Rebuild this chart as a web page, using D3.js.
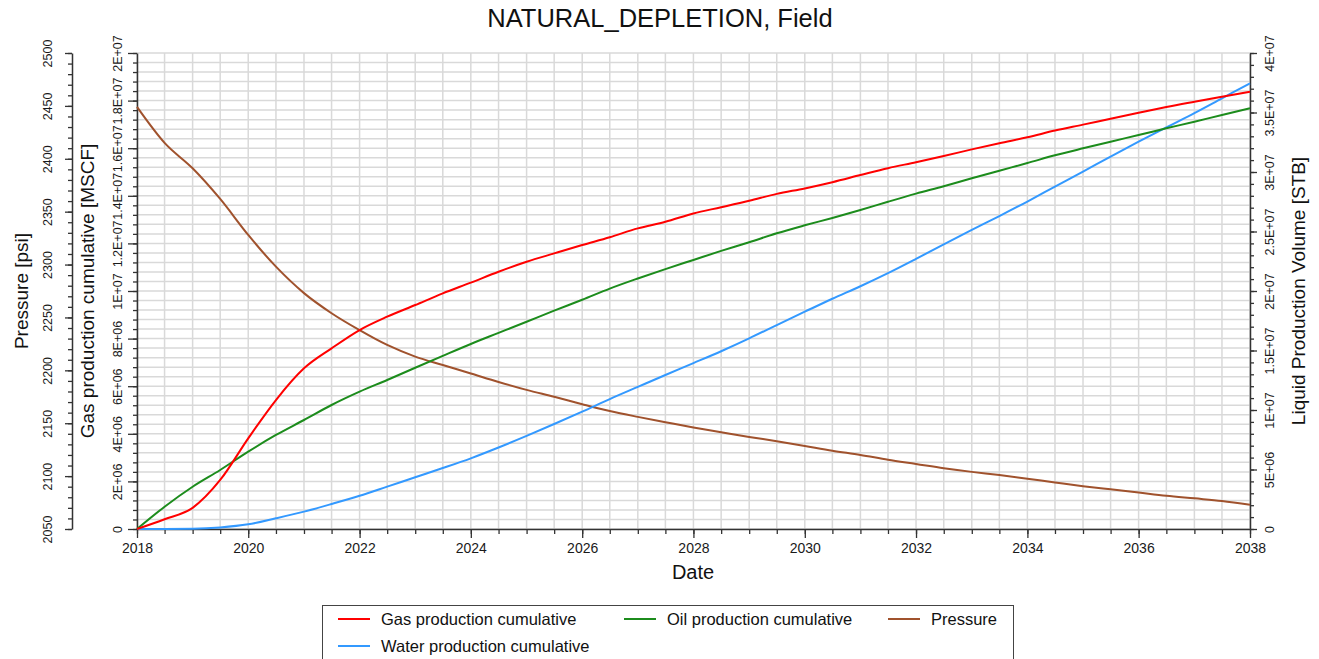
<!DOCTYPE html>
<html>
<head>
<meta charset="utf-8">
<script src="https://cdn.jsdelivr.net/npm/d3@7"></script>
<style>
  body { margin: 0; background: #fff; }
  svg { display: block; font-family: Arial, "Liberation Sans", sans-serif; }
</style>
</head>
<body>
<svg id="chart" width="1319" height="659"></svg>
<script>
// Half-yearly report dates
const dates = [
  "2018-01","2018-07","2019-01","2019-07","2020-01","2020-07","2021-01","2021-07",
  "2022-01","2022-07","2023-01","2023-07","2024-01","2024-07","2025-01","2025-07",
  "2026-01","2026-07","2027-01","2027-07","2028-01","2028-07","2029-01","2029-07",
  "2030-01","2030-07","2031-01","2031-07","2032-01","2032-07","2033-01","2033-07",
  "2034-01","2034-07","2035-01","2035-07","2036-01","2036-07","2037-01","2037-07",
  "2038-01"
];

// Gas production cumulative [MSCF]
const gasCum = [
  0, 4.1e5, 8.9e5, 2.06e6, 3.81e6, 5.42e6, 6.75e6, 7.59e6,
  8.36e6, 8.92e6, 9.41e6, 9.90e6, 1.035e7, 1.081e7, 1.123e7, 1.158e7,
  1.193e7, 1.226e7, 1.263e7, 1.291e7, 1.326e7, 1.352e7, 1.379e7, 1.408e7,
  1.431e7, 1.457e7, 1.487e7, 1.516e7, 1.541e7, 1.567e7, 1.595e7, 1.621e7,
  1.646e7, 1.674e7, 1.699e7, 1.724e7, 1.749e7, 1.773e7, 1.795e7, 1.816e7,
  1.837e7
];

// Oil production cumulative [STB]
const oilCum = [
  0, 1.87e6, 3.55e6, 4.96e6, 6.50e6, 7.90e6, 9.16e6, 1.042e7,
  1.154e7, 1.252e7, 1.355e7, 1.455e7, 1.555e7, 1.648e7, 1.742e7, 1.835e7,
  1.926e7, 2.020e7, 2.105e7, 2.184e7, 2.261e7, 2.337e7, 2.410e7, 2.485e7,
  2.552e7, 2.614e7, 2.681e7, 2.750e7, 2.818e7, 2.880e7, 2.947e7, 3.011e7,
  3.075e7, 3.140e7, 3.199e7, 3.255e7, 3.311e7, 3.367e7, 3.423e7, 3.479e7,
  3.535e7
];

// Water production cumulative [STB]
const waterCum = [
  0, 0, 2.0e4, 1.3e5, 3.9e5, 9.0e5, 1.46e6, 2.10e6,
  2.79e6, 3.56e6, 4.35e6, 5.12e6, 5.94e6, 6.85e6, 7.82e6, 8.82e6,
  9.86e6, 1.092e7, 1.194e7, 1.294e7, 1.394e7, 1.494e7, 1.602e7, 1.714e7,
  1.826e7, 1.935e7, 2.040e7, 2.150e7, 2.270e7, 2.392e7, 2.513e7, 2.630e7,
  2.752e7, 2.877e7, 3.003e7, 3.130e7, 3.255e7, 3.375e7, 3.495e7, 3.619e7,
  3.745e7
];

// Field pressure [psi]
const pressure = [
  2449, 2415, 2391, 2362, 2328, 2298, 2273, 2254,
  2238, 2224, 2213, 2205, 2197, 2189, 2181.5, 2175,
  2168, 2161.5, 2156, 2151, 2146, 2141.5, 2137, 2133,
  2128.5, 2124, 2120, 2115.5, 2111.5, 2107.5, 2104, 2101,
  2097.5, 2094, 2090.5, 2087.5, 2084.5, 2081.5, 2079, 2076.5,
  2073
];

// Axis ticks and their labels
const yearTicks = ["2018","2020","2022","2024","2026","2028","2030","2032","2034","2036","2038"];
const pressureTicks = [2050, 2100, 2150, 2200, 2250, 2300, 2350, 2400, 2450, 2500];
const pressureTickLabels = ["2050","2100","2150","2200","2250","2300","2350","2400","2450","2500"];
const gasTicks = [0, 2e6, 4e6, 6e6, 8e6, 1e7, 1.2e7, 1.4e7, 1.6e7, 1.8e7, 2e7];
const gasTickLabels = ["0","2E+06","4E+06","6E+06","8E+06","1E+07","1.2E+07","1.4E+07","1.6E+07","1.8E+07","2E+07"];
const liquidTicks = [0, 5e6, 1e7, 1.5e7, 2e7, 2.5e7, 3e7, 3.5e7, 4e7];
const liquidTickLabels = ["0","5E+06","1E+07","1.5E+07","2E+07","2.5E+07","3E+07","3.5E+07","4E+07"];

const seriesNames = ["Gas production cumulative", "Oil production cumulative", "Pressure", "Water production cumulative"];
const seriesColors = ["#ff0000", "#1c8c1c", "#a0522d", "#3399ff"];

// ---------------------------------------------------------------
const svg = d3.select("#chart");
const plotLeft = 137, plotRight = 1250, plotTop = 53, plotBottom = 529;
const parse = d3.utcParse("%Y-%m");
const t = dates.map(parse);

const x = d3.scaleUtc().domain([parse("2018-01"), parse("2038-01")]).range([plotLeft, plotRight]);
const yP = d3.scaleLinear().domain([2050, 2500]).range([plotBottom, plotTop]);
const yG = d3.scaleLinear().domain([0, 2e7]).range([plotBottom, plotTop]);
const yL = d3.scaleLinear().domain([0, 4e7]).range([plotBottom, plotTop]);

const tickFont = 12.5;
const gridColor = "#d9d9d9";
const axisColor = "#333";

// grid
const grid = svg.append("g");
grid.selectAll("line.h").data(d3.range(0, 2e7 + 1, 4e5)).join("line")
  .attr("class", "h")
  .attr("x1", plotLeft).attr("x2", plotRight)
  .attr("y1", d => yG(d)).attr("y2", d => yG(d))
  .attr("stroke", gridColor).attr("stroke-width", 1.5);
grid.selectAll("line.v").data(x.ticks(d3.utcMonth.every(6))).join("line")
  .attr("class", "v")
  .attr("x1", d => x(d)).attr("x2", d => x(d))
  .attr("y1", plotTop).attr("y2", plotBottom)
  .attr("stroke", gridColor).attr("stroke-width", 1.5);

function styleAxis(g) {
  g.select(".domain").attr("stroke", axisColor).attr("stroke-width", 1.5);
  g.selectAll(".tick line").attr("stroke", axisColor).attr("stroke-width", 1.3);
  g.selectAll(".tick text").attr("fill", "#1a1a1a").style("font-size", tickFont + "px")
    .style("font-family", "Arial, 'Liberation Sans', sans-serif");
}
function rotateLabels(g, dx) {
  g.selectAll(".tick text")
    .attr("x", 0).attr("y", 0).attr("dy", "0.35em")
    .attr("text-anchor", "middle")
    .attr("transform", `translate(${dx},0) rotate(-90)`);
}

// minor ticks
function minor(axisFn, scale, values, size, tx, ty) {
  svg.append("g").attr("transform", `translate(${tx},${ty})`)
    .call(axisFn(scale).tickValues(values).tickSize(size).tickSizeOuter(0).tickFormat(""))
    .call(g => { g.select(".domain").remove(); g.selectAll(".tick line").attr("stroke", axisColor).attr("stroke-width", 1.3); });
}
minor(d3.axisLeft, yP, d3.range(2050, 2501, 10), 4, 72, 0);
minor(d3.axisLeft, yG, d3.range(0, 2e7 + 1, 4e5), 4, plotLeft, 0);
minor(d3.axisRight, yL, d3.range(0, 4e7 + 1, 1e6), 4, plotRight, 0);
minor(d3.axisBottom, x, x.ticks(d3.utcMonth.every(6)), 5, 0, plotBottom);

// pressure axis
svg.append("g").attr("transform", "translate(72,0)")
  .call(d3.axisLeft(yP).tickValues(pressureTicks).tickSize(7).tickSizeOuter(0)
    .tickFormat((d, i) => pressureTickLabels[i]))
  .call(styleAxis).call(g => rotateLabels(g, -24));

// gas axis
svg.append("g").attr("transform", `translate(${plotLeft},0)`)
  .call(d3.axisLeft(yG).tickValues(gasTicks).tickSize(9).tickSizeOuter(0)
    .tickFormat((d, i) => gasTickLabels[i]))
  .call(styleAxis).call(g => rotateLabels(g, -19));

// liquid axis
svg.append("g").attr("transform", `translate(${plotRight},0)`)
  .call(d3.axisRight(yL).tickValues(liquidTicks).tickSize(7).tickSizeOuter(0)
    .tickFormat((d, i) => liquidTickLabels[i]))
  .call(styleAxis).call(g => rotateLabels(g, 20));

// date axis
svg.append("g").attr("transform", `translate(0,${plotBottom})`)
  .call(d3.axisBottom(x).tickValues(yearTicks.map(y => parse(y + "-01"))).tickSize(9).tickSizeOuter(0)
    .tickFormat((d, i) => yearTicks[i]))
  .call(styleAxis)
  .call(g => g.selectAll(".tick text").attr("y", 19).attr("dy", "0.35em").style("font-size", "14px"));

// series
const lines = [
  { v: gasCum, y: yG },
  { v: oilCum, y: yL },
  { v: pressure, y: yP },
  { v: waterCum, y: yL }
];
const drawOrder = [2, 3, 1, 0];
drawOrder.forEach(k => {
  const s = lines[k];
  const line = d3.line().x((d, i) => x(t[i])).y(d => s.y(d)).curve(d3.curveMonotoneX);
  svg.append("path").datum(s.v).attr("d", line)
    .attr("fill", "none").attr("stroke", seriesColors[k]).attr("stroke-width", 2)
    .attr("stroke-linejoin", "round");
});

// titles
svg.append("text").attr("x", 660).attr("y", 18).attr("dy", "0.35em")
  .attr("text-anchor", "middle").style("font-size", "25.5px").attr("fill", "#111")
  .text("NATURAL_DEPLETION, Field");
svg.append("text").attr("x", 693).attr("y", 572).attr("dy", "0.35em")
  .attr("text-anchor", "middle").style("font-size", "20px").attr("fill", "#111")
  .text("Date");

function vTitle(cx, label) {
  svg.append("text").attr("x", 0).attr("y", 0).attr("dy", "0.35em")
    .attr("text-anchor", "middle").style("font-size", "19px").attr("fill", "#111")
    .attr("transform", `translate(${cx},291) rotate(-90)`)
    .text(label);
}
vTitle(21, "Pressure [psi]");
vTitle(87, "Gas production cumulative [MSCF]");
vTitle(1298, "Liquid Production Volume [STB]");

// legend
const legend = svg.append("g");
legend.append("rect").attr("x", 322.5).attr("y", 605.5).attr("width", 691).attr("height", 70)
  .attr("fill", "#fff").attr("stroke", "#444").attr("stroke-width", 1);
const legendPos = [
  { x: 338, y: 619 },
  { x: 624, y: 619 },
  { x: 888, y: 619 },
  { x: 338, y: 646 }
];
seriesNames.forEach((name, k) => {
  const p = legendPos[k];
  legend.append("line").attr("x1", p.x).attr("x2", p.x + 32).attr("y1", p.y).attr("y2", p.y)
    .attr("stroke", seriesColors[k]).attr("stroke-width", 2);
  legend.append("text").attr("x", p.x + 43).attr("y", p.y).attr("dy", "0.35em")
    .style("font-size", "16.5px").attr("fill", "#111").text(name);
});
</script>
</body>
</html>
